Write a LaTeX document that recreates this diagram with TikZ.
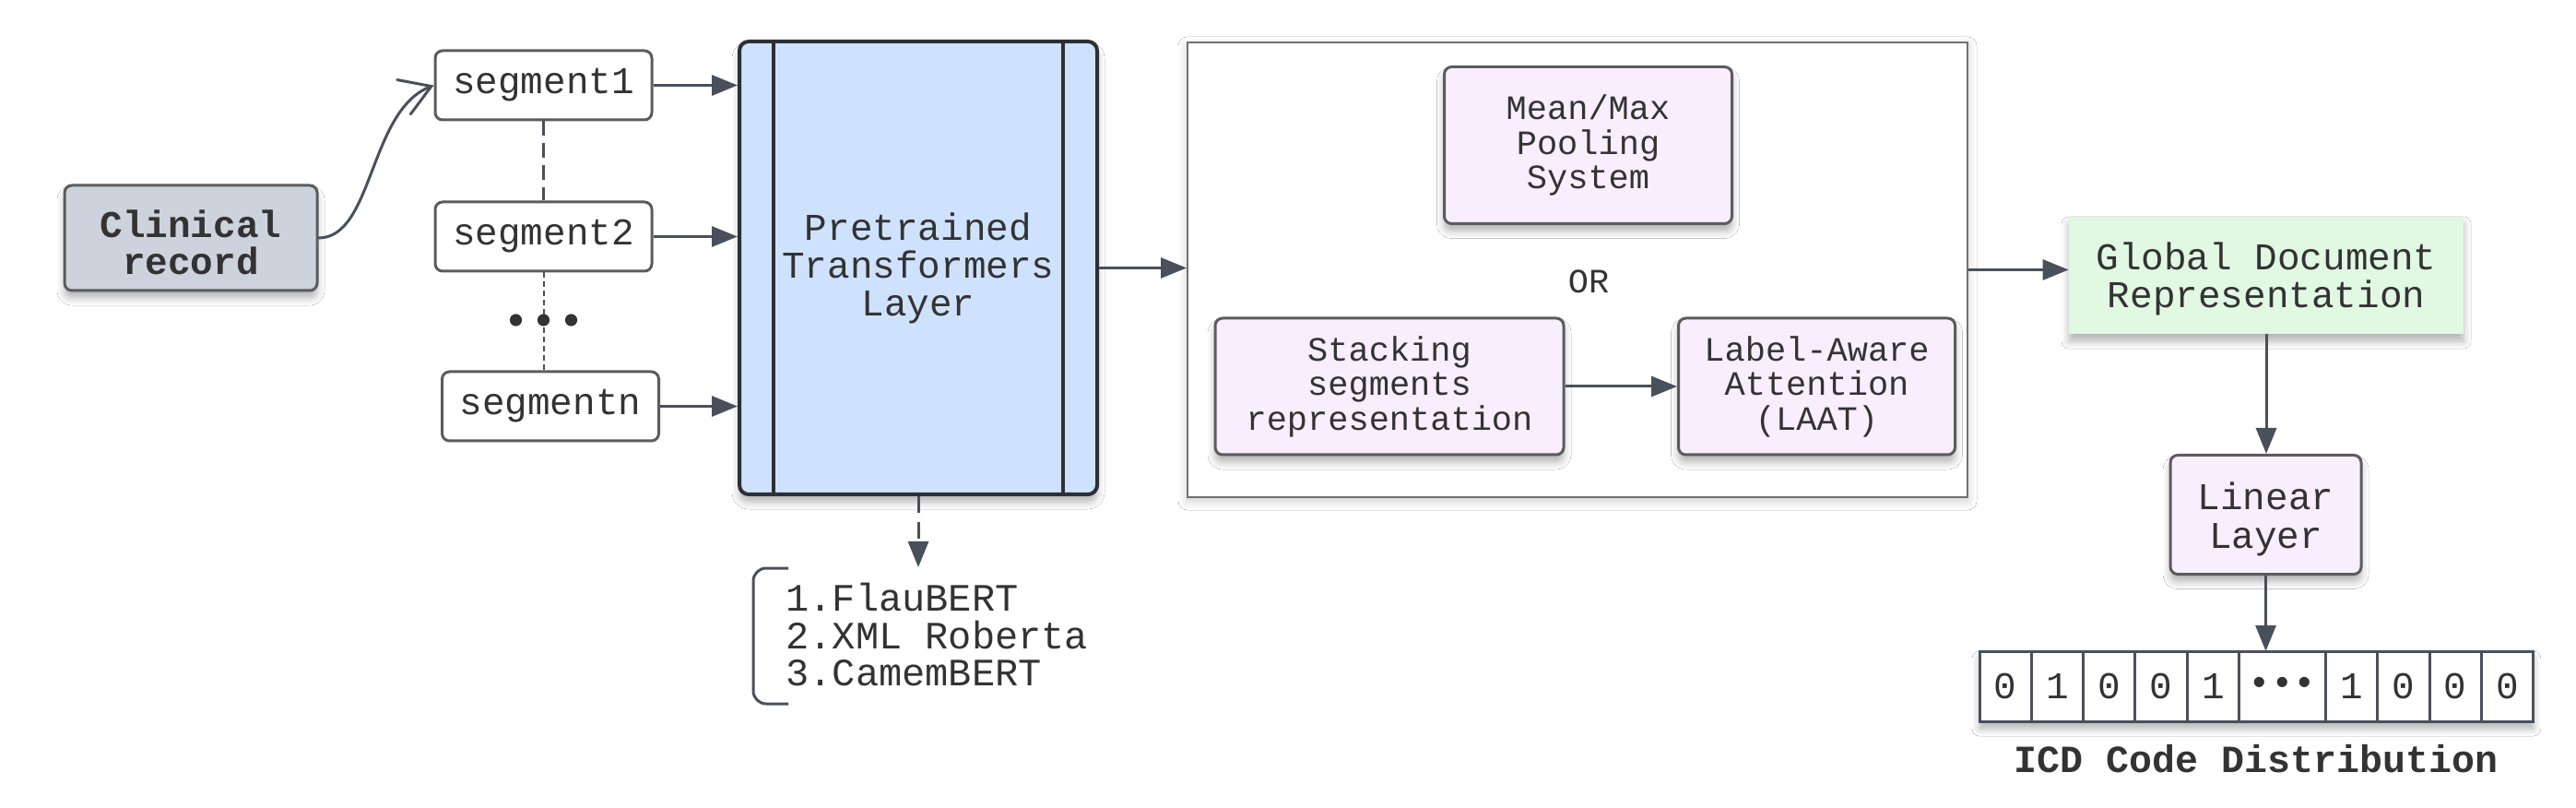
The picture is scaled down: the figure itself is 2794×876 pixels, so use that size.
\documentclass[tikz,border=0pt]{standalone}
\usepackage{fontspec}
\setmainfont{Liberation Mono}
\usetikzlibrary{arrows.meta,shadows.blur,calc}
\definecolor{txt}{HTML}{333333}
\definecolor{edge}{HTML}{5C5C5C}
\definecolor{arrc}{HTML}{4A505B}
\definecolor{grayfill}{HTML}{CDD3DC}
\definecolor{bluefill}{HTML}{CFE2FD}
\definecolor{trborder}{HTML}{2C2F37}
\definecolor{pinkfill}{HTML}{F9EEFD}
\definecolor{greenfill}{HTML}{E1F8E3}
\definecolor{contborder}{HTML}{707070}
\tikzset{
  shd/.style={blur shadow={shadow xshift=0pt, shadow yshift=-4pt, shadow blur steps=6, shadow blur radius=4pt, shadow opacity=30}},
  fnt/.style={font=\fontsize{20.5}{20.5}\selectfont},
  sfnt/.style={font=\fontsize{18.5}{18.75}\selectfont},
  box/.style={draw=edge, line width=1.5pt, rounded corners=4pt, text=txt, align=center, inner sep=0pt},
  segbox/.style={box, fnt, fill=white, minimum width=117.5pt, minimum height=37.5pt},
  pinkbox/.style={box, sfnt, fill=pinkfill, shd},
  lbl/.style={text=txt, align=center, inner sep=0pt},
  cellbox/.style={draw=arrc, line width=1.5pt, fill=white, text=txt, inner sep=0pt, outer sep=0pt, minimum height=38pt, fnt},
  arr/.style={draw=arrc, line width=1.5pt, -{Triangle[length=14pt,width=11pt]}},
  dasharr/.style={arr, dash pattern=on 9pt off 5pt},
}
\begin{document}
\begin{tikzpicture}[x=0.5pt,y=-0.5pt]
\useasboundingbox (0,0) rectangle (2794,876);
\fill[white] (0,0) rectangle (2794,876);

% left part
\node[box, fill=grayfill, shd, minimum width=137pt, minimum height=57pt] (cr) at (207,258) {};
\node[lbl, font=\fontsize{20.5}{20}\selectfont\bfseries] (crt) at ([yshift=-2.5pt]cr.center) {Clinical\\record};
\node[segbox] (s1) at (589.5,92.5) {segment1};
\node[segbox] (s2) at (589.5,256.5) {segment2};
\node[segbox] (sn) at (597,440.5) {segmentn};

\draw[arrc, line width=1.5pt, dash pattern=on 8pt off 4pt] (s1.south) -- (s2.north);
\draw[arrc, line width=1pt, dash pattern=on 3pt off 2pt] (s2.south) -- (s2.south |- sn.north);
\foreach \dx in {-30,0,30}{
  \fill[txt] ($(s2.south|-0,347)+(\dx,0)$) circle (3.3pt);
}

\draw[draw=arrc, line width=1.5pt, line cap=round, -{Straight Barb[length=16pt,width=20pt,line cap=round]}] (cr.east) .. controls (405,258) and (400,120) .. (s1.west);

% transformer
\node[box, fnt, fill=bluefill, draw=trborder, line width=2pt, rounded corners=5pt, shd, minimum width=194pt, minimum height=245.5pt] (tr) at (996,290.5) {Pretrained\\Transformers\\Layer};
\draw[trborder, line width=2pt] ([xshift=19.5pt]tr.north west) -- ([xshift=19.5pt]tr.south west);
\draw[trborder, line width=2pt] ([xshift=-19.5pt]tr.north east) -- ([xshift=-19.5pt]tr.south east);

\draw[arr] (s1.east) -- (s1.east -| tr.west);
\draw[arr] (s2.east) -- (s2.east -| tr.west);
\draw[arr] (sn.east) -- (sn.east -| tr.west);

% model list
\coordinate (lt) at (996,615);
\draw[dasharr] (tr.south) -- (lt);
\coordinate (b1) at (855,616);
\coordinate (b2) at (817,616);
\coordinate (b3) at (817,763);
\coordinate (b4) at (855,763);
\draw[arrc, line width=1.5pt, rounded corners=7pt] (b1) -- (b2) -- (b3) -- (b4);
\node[anchor=west, align=left, text=txt, inner sep=0pt, font=\fontsize{21}{20.25}\selectfont] (lst) at (852,688) {1.FlauBERT\\2.XML Roberta\\3.CamemBERT};

% container
\node[draw=contborder, line width=1pt, fill=white, blur shadow={shadow xshift=0pt, shadow yshift=-2pt, shadow blur steps=6, shadow blur radius=5pt, shadow opacity=20}, minimum width=423pt, minimum height=246.5pt, inner sep=0pt] (cont) at (1711,292.5) {};
\draw[arr] (tr.east) -- (tr.east -| cont.west);

\node[pinkbox, minimum width=156pt, minimum height=85pt] (mm) at (1722.5,157.5) {Mean/Max\\Pooling\\System};
\node[text=txt, sfnt, inner sep=0pt] (orr) at (1723,305) {OR};
\node[pinkbox, minimum width=189pt, minimum height=74pt] (st) at (1507,419) {Stacking\\segments\\representation};
\node[pinkbox, minimum width=150pt, minimum height=74pt] (la) at (1970.5,419) {Label-Aware\\Attention\\(LAAT)};
\draw[arr] (st.east) -- (la.west);

% right part
\node[fill=greenfill, shd, minimum width=214pt, minimum height=63.5pt, inner sep=0pt] (gd) at (2458,298.5) {};
\node[lbl, font=\fontsize{20.5}{20.8}\selectfont] (gdt) at ([yshift=-2pt]gd.center) {Global Document\\Representation};
\draw[arr] (cont.east) -- (cont.east -| gd.west);

\node[box, fill=pinkfill, shd, minimum width=103.5pt, minimum height=64.5pt] (lin) at (2457.5,558) {};
\node[lbl, font=\fontsize{20.5}{20.8}\selectfont] (lint) at ([yshift=-2.5pt]lin.center) {Linear\\Layer};
\draw[arr] (gd.south) -- (gd.south |- lin.north);

% ICD array
\node[fill=white, shd, minimum width=300.35pt, minimum height=38pt, inner sep=0pt, outer sep=0pt] (icd) at (2447.35,744) {};
\node[cellbox, minimum width=28.15pt, anchor=west] (c1) at (icd.west) {0};
\node[cellbox, minimum width=28.15pt, anchor=west] (c2) at (c1.east) {1};
\node[cellbox, minimum width=28.15pt, anchor=west] (c3) at (c2.east) {0};
\node[cellbox, minimum width=28.15pt, anchor=west] (c4) at (c3.east) {0};
\node[cellbox, minimum width=28.15pt, anchor=west] (c5) at (c4.east) {1};
\node[cellbox, minimum width=47pt, anchor=west] (c6) at (c5.east) {•••};
\node[cellbox, minimum width=28.15pt, anchor=west] (c7) at (c6.east) {1};
\node[cellbox, minimum width=28.15pt, anchor=west] (c8) at (c7.east) {0};
\node[cellbox, minimum width=28.15pt, anchor=west] (c9) at (c8.east) {0};
\node[cellbox, minimum width=28.15pt, anchor=west] (c10) at (c9.east) {0};
\draw[arr] (lin.south) -- (lin.south |- c6.north);

\node[text=txt, inner sep=0pt, font=\fontsize{20.8}{21}\selectfont\bfseries] (icdl) at (2447,823) {ICD Code Distribution};
\end{tikzpicture}
\end{document}
